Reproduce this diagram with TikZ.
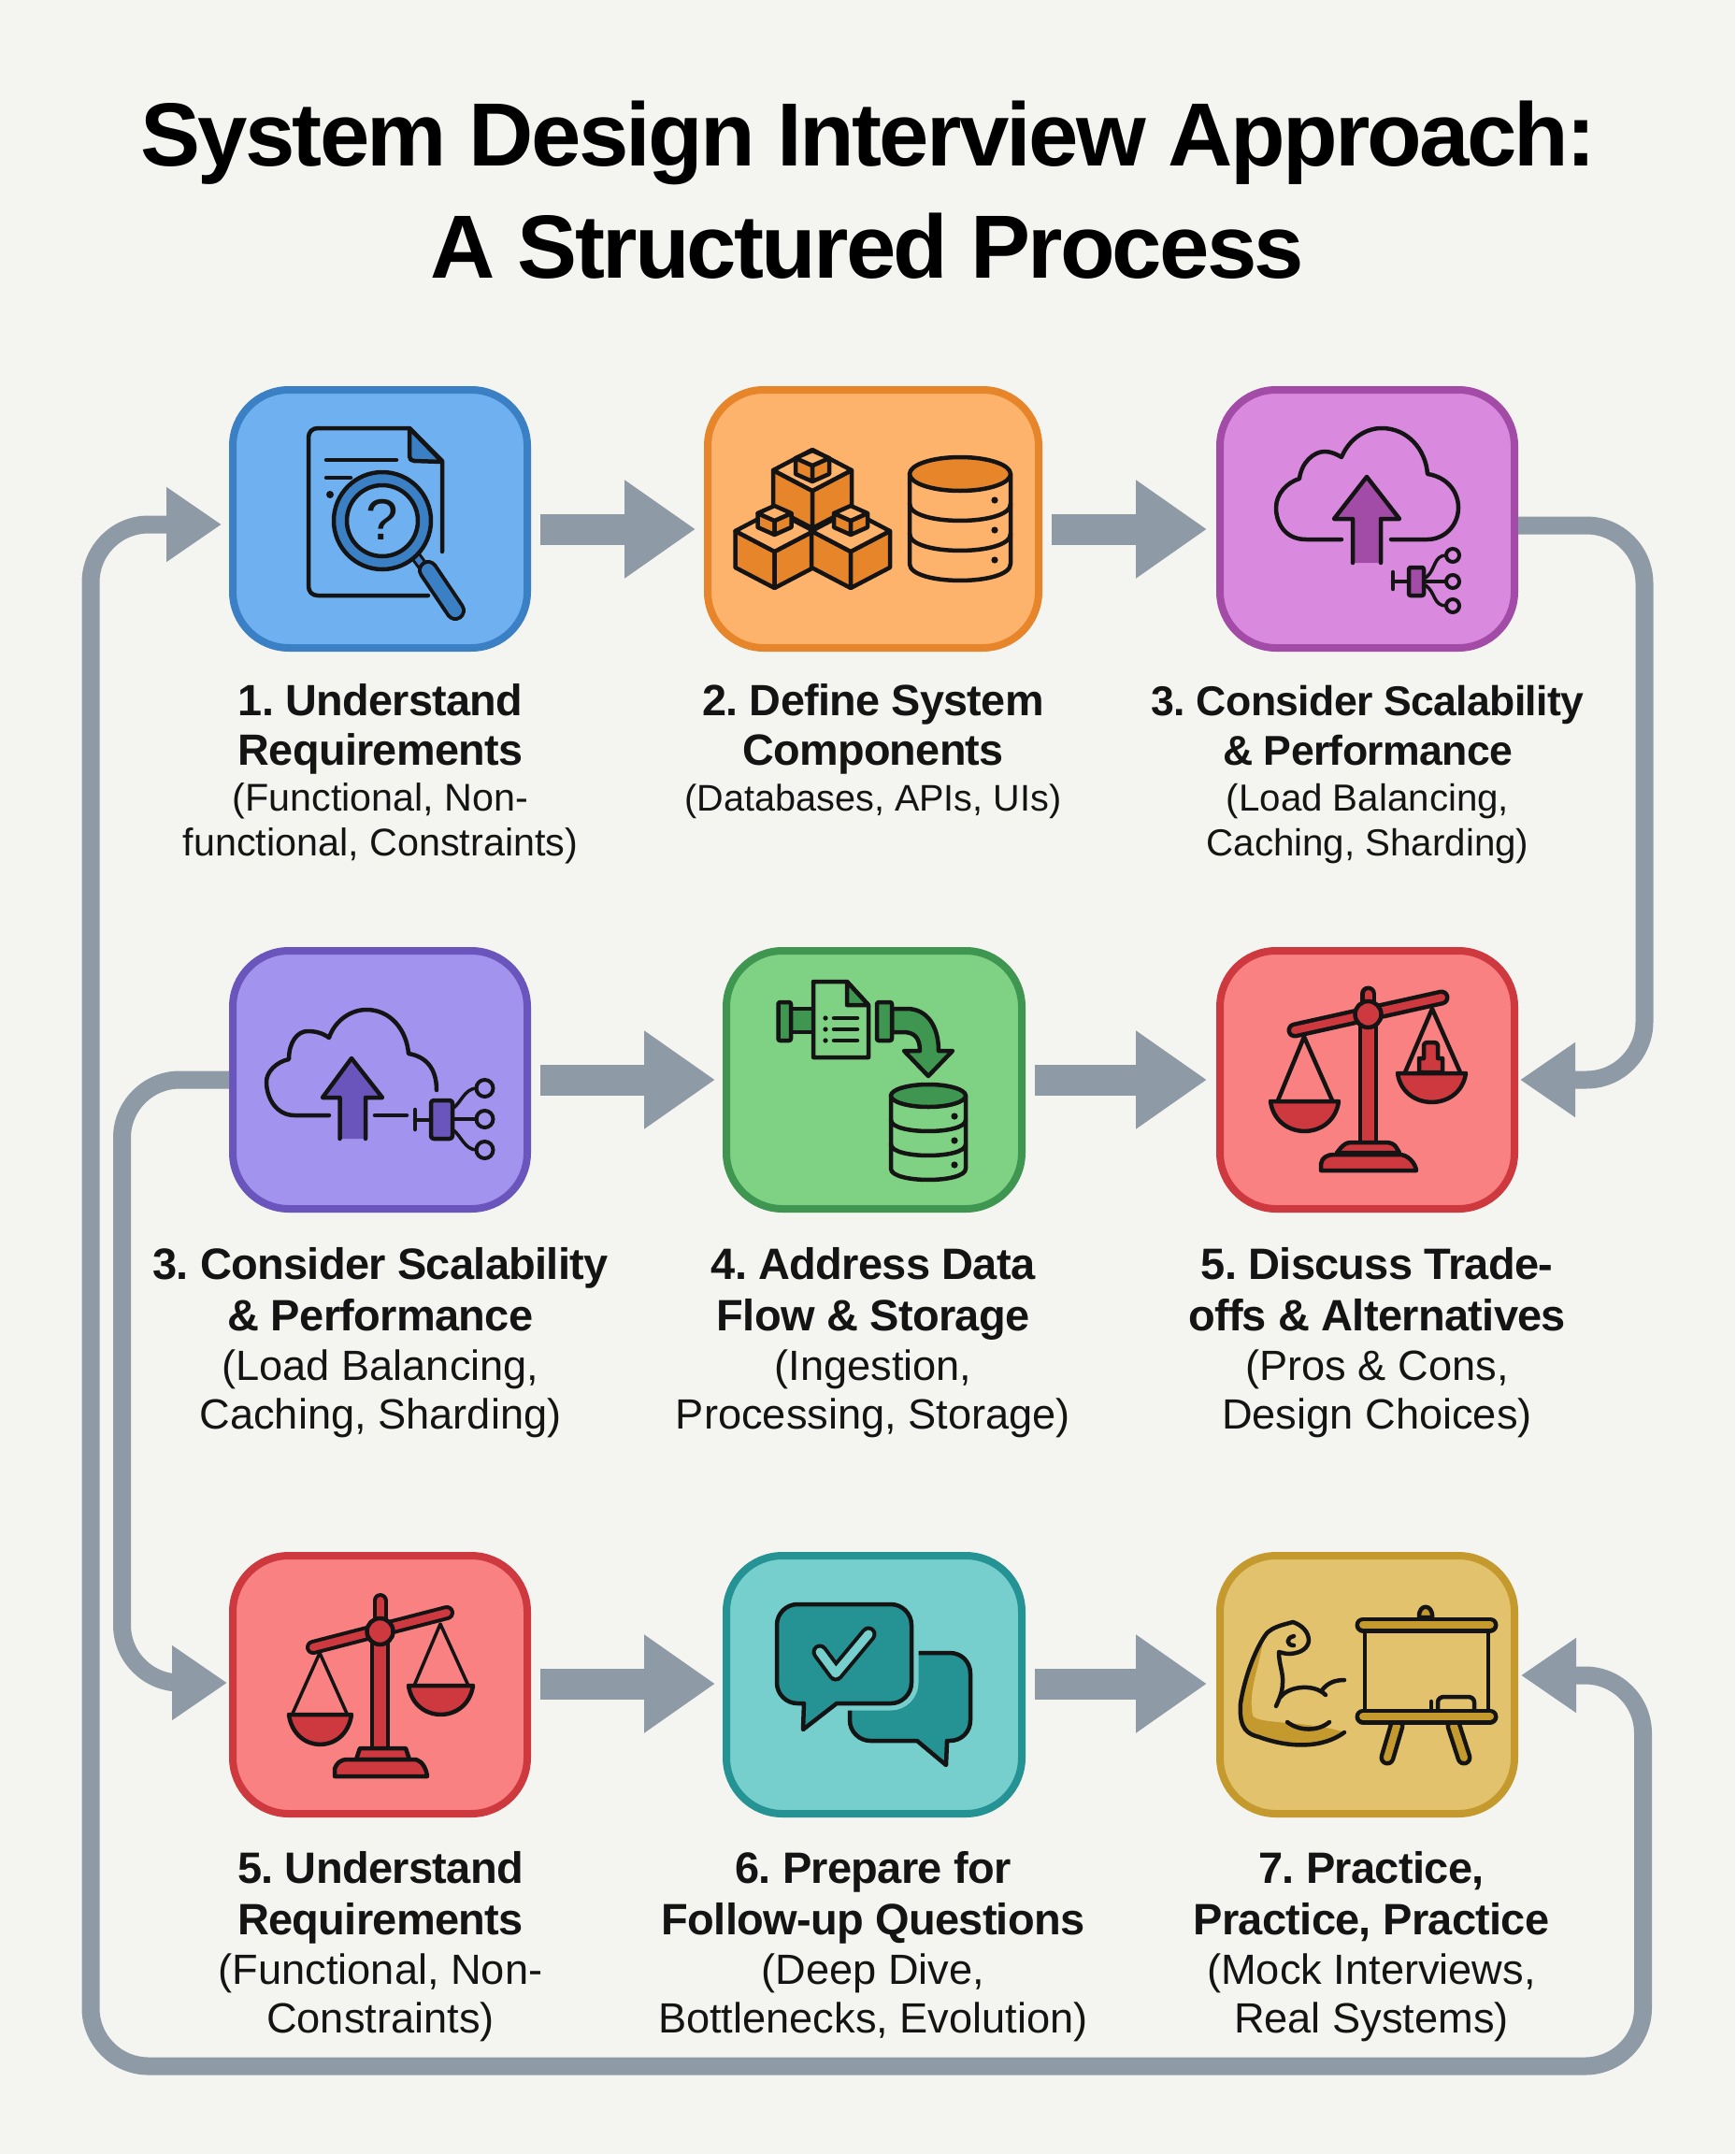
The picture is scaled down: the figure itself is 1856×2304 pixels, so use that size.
\documentclass[tikz,border=0pt]{standalone}
\usepackage{fontspec}
\setmainfont{Liberation Sans}
\newfontfamily\tighttitle[LetterSpace=-2.9]{Liberation Sans}
\newfontfamily\tightlabel[LetterSpace=-1.5]{Liberation Sans}
\usetikzlibrary{arrows.meta,calc}
\definecolor{pagebg}{HTML}{F4F4F0}
\definecolor{conn}{HTML}{8E9AA5}
\definecolor{ink}{HTML}{141414}
\definecolor{blueF}{HTML}{6FB1F0}\definecolor{blueD}{HTML}{3B80C4}
\definecolor{orF}{HTML}{FDB36B}\definecolor{orD}{HTML}{E6852A}
\definecolor{puF}{HTML}{D98ADF}\definecolor{puD}{HTML}{A24CA8}
\definecolor{viF}{HTML}{A293EE}\definecolor{viD}{HTML}{6A55BC}
\definecolor{grF}{HTML}{7FD184}\definecolor{grD}{HTML}{3E9650}
\definecolor{reF}{HTML}{F98181}\definecolor{reD}{HTML}{CE383F}
\definecolor{teF}{HTML}{76CFCD}\definecolor{teD}{HTML}{259294}
\definecolor{goF}{HTML}{E3C26E}\definecolor{goD}{HTML}{C49A2E}
\tikzset{
  card/.style={rectangle,rounded corners=60pt,line width=8pt,outer sep=0pt,inner sep=0pt,minimum height=276pt},
  wide/.style={minimum width=315pt},
  block/.style={draw=conn,line width=33pt,-{Triangle[length=76pt,width=100pt]}},
  looptip/.tip={Triangle[length=59pt,width=76pt]},
  loopline/.style={draw=conn,line width=19pt,rounded corners=62pt},
  ttl/.style={anchor=base,inner sep=0pt,text=black,font=\tighttitle\bfseries\fontsize{96}{96}\selectfont},
  bA/.style={anchor=base,inner sep=0pt,text=ink,font=\tightlabel\bfseries\fontsize{46.8}{46.8}\selectfont},
  bAc/.style={anchor=base,inner sep=0pt,text=ink,font=\tightlabel\bfseries\fontsize{44.6}{44.6}\selectfont},
  rA/.style={anchor=base,inner sep=0pt,text=ink,font=\fontsize{41.3}{41.3}\selectfont},
  rAb/.style={anchor=base,inner sep=0pt,text=ink,font=\fontsize{39.6}{39.6}\selectfont},
  rAc/.style={anchor=base,inner sep=0pt,text=ink,font=\fontsize{40.3}{40.3}\selectfont},
  bB/.style={anchor=base,inner sep=0pt,text=ink,font=\tightlabel\bfseries\fontsize{47}{47}\selectfont},
  rB/.style={anchor=base,inner sep=0pt,text=ink,font=\fontsize{45.2}{45.2}\selectfont},
  ic/.style={draw=ink,line width=4.5pt,line join=round,line cap=round},
}
\frenchspacing
\newcommand\dbicon[7]{% cx cy rx ry step dotdx dark
  \draw[ic] ({#1-#3},#2) -- ({#1-#3},{#2+3*#5}) .. controls ({#1-#3},{#2+3*#5+1.33*#4}) and ({#1+#3},{#2+3*#5+1.33*#4}) .. ({#1+#3},{#2+3*#5}) -- ({#1+#3},#2);
  \foreach \i in {1,2}{\draw[ic] ({#1-#3},{#2+\i*#5}) .. controls ({#1-#3},{#2+\i*#5+1.33*#4}) and ({#1+#3},{#2+\i*#5+1.33*#4}) .. ({#1+#3},{#2+\i*#5});}
  \foreach \i in {1,2,3}{\fill[ink] ({#1+#6},{#2+\i*#5-4}) circle[radius=3.6];}
  \draw[ic,fill=#7] (#1,#2) ellipse[x radius=#3,y radius=#4];
}
\newcommand\cubeicon[5]{% cx cy w h d
  \draw[ic,fill=orD] ({#1-#3},{#2-#4}) -- (#1,#2) -- (#1,{#2+#5}) -- ({#1-#3},{#2-#4+#5}) -- cycle;
  \draw[ic,fill=orD] ({#1+#3},{#2-#4}) -- (#1,#2) -- (#1,{#2+#5}) -- ({#1+#3},{#2-#4+#5}) -- cycle;
  \draw[ic,fill=orF] ({#1-#3},{#2-#4}) -- (#1,#2) -- ({#1+#3},{#2-#4}) -- (#1,{#2-2*#4}) -- cycle;
}
\newcommand\panicon[5]{% x1 x2 rim depth fill
  \draw[ic,fill=#5] (#1,#3) -- (#2,#3) .. controls ({#2-6},{#3+1.33*#4}) and ({#1+6},{#3+1.33*#4}) .. (#1,#3) -- cycle;
}
\begin{document}
\begin{tikzpicture}[x=1pt,y=-1pt]
\useasboundingbox (0,0) rectangle (1856,2304);
\fill[pagebg] (0,0) rectangle (1856,2304);

% ---------- cards
\node[card,wide,fill=blueF,draw=blueD] (c1) at (406.5,555) {};
\node[card,minimum width=354pt,fill=orF,draw=orD] (c2) at (934,555) {};
\node[card,wide,fill=puF,draw=puD] (c3) at (1462.5,555) {};
\node[card,wide,fill=viF,draw=viD] (c4) at (406.5,1155) {};
\node[card,minimum width=316pt,fill=grF,draw=grD] (c5) at (935,1155) {};
\node[card,wide,fill=reF,draw=reD] (c6) at (1462.5,1155) {};
\node[card,wide,fill=reF,draw=reD] (c7) at (406.5,1802) {};
\node[card,minimum width=316pt,fill=teF,draw=teD] (c8) at (935,1802) {};
\node[card,wide,fill=goF,draw=goD] (c9) at (1462.5,1802) {};

% ---------- straight connectors
\draw[block] ($(c1.east)+(14,11)$) -- ($(c2.west)+(-13,11)$);
\draw[block] ($(c2.east)+(14,11)$) -- ($(c3.west)+(-14,11)$);
\draw[block] ($(c4.east)+(14,0)$) -- ($(c5.west)+(-12,0)$);
\draw[block] ($(c5.east)+(14,0)$) -- ($(c6.west)+(-14,0)$);
\draw[block] ($(c7.east)+(14,-1)$) -- ($(c8.west)+(-12,-1)$);
\draw[block] ($(c8.east)+(14,-1)$) -- ($(c9.west)+(-14,-1)$);

% ---------- routed connectors
\coordinate (k1) at (97,561);
\coordinate (k2) at (97,2210);
\coordinate (k3) at (1757.5,2210);
\coordinate (k4) at (1757.5,1792);
\draw[loopline,{looptip}-{looptip}] ($(c1.west)+(-12,6)$) -- (k1) -- (k2) -- (k3) -- (k4) -- ($(c9.east)+(7,-10)$);
\coordinate (k5) at (1759,562);
\coordinate (k6) at (1759,1155);
\draw[loopline,-{looptip}] ($(c3.east)+(4,7)$) -- (k5) -- (k6) -- ($(c6.east)+(6,0)$);
\coordinate (k7) at (130.5,1155);
\coordinate (k8) at (130.5,1800);
\draw[loopline,-{looptip}] ($(c4.west)+(-4,0)$) -- (k7) -- (k8) -- ($(c7.west)+(-6,-2)$);

% ---------- icon 1: document and magnifier
\draw[ic] (473,590) -- (473,493) -- (438,458) -- (340,458) .. controls (334,458) and (330,462) .. (330,468) -- (330,627) .. controls (330,633) and (334,637) .. (340,637) -- (458,637);
\draw[ic,fill=blueD] (438,458) -- (438,488) .. controls (438,491) and (440,493) .. (443,493) -- (473,494) -- cycle;
\draw[ic] (349,492) -- (424,492);
\draw[ic] (349,511) -- (375,511);
\fill[ink] (353,529) circle[radius=4];
\draw[line width=12pt,ink] (441,590) -- (452,605);
\draw[line width=6pt,blueD] (441,590) -- (452,605);
\draw[line width=22pt,ink,line cap=round] (458,610) -- (487,653);
\draw[line width=14pt,blueD,line cap=round] (458,610) -- (487,653);
\draw[ic,fill=blueD] (409,557) circle[radius=52];
\draw[ic,fill=blueF] (409,557) circle[radius=38];
\node[inner sep=0pt,text=ink,font=\fontsize{62}{62}\selectfont] (qmark) at (409,556) {?};

% ---------- icon 2: cubes and database
\cubeicon{869}{525}{42}{22}{40}
\cubeicon{828.5}{590}{42}{22}{39}
\cubeicon{910}{590}{42}{22}{39}
\cubeicon{869}{498}{18}{8}{17}
\cubeicon{828.5}{557}{18}{8}{15}
\cubeicon{910}{557}{18}{8}{15}
\dbicon{1027}{507}{54}{18}{32}{37}{orD}

% ---------- icon 3: cloud, purple
\draw[ic] (1435,577) -- (1397,577) .. controls (1375,577) and (1365,560) .. (1365,543) .. controls (1365,528) and (1377,516) .. (1390,512) .. controls (1392,495) and (1405,483) .. (1417,483) .. controls (1424,483) and (1430,486) .. (1435,489) .. controls (1443,470) and (1460,458) .. (1478,458) .. controls (1505,458) and (1525,480) .. (1527,507) .. controls (1547,510) and (1560,525) .. (1560,543) .. controls (1560,562) and (1545,577) .. (1527,577) -- (1488,577);
\fill[puD] (1447,555) rectangle (1477,602);
\draw[ic,fill=puD] (1447,602) -- (1447,555) -- (1427,555) -- (1462,510) -- (1497,555) -- (1477,555) -- (1477,602);
\draw[ic] (1490,612) -- (1490,630);
\draw[ic] (1490,622) -- (1507,622);
\draw[ic,fill=puD,rounded corners=2pt] (1507,607) rectangle (1523,637);
\draw[line width=3.5pt,ink,line cap=round] (1525,618) .. controls (1536,610) and (1533,594) .. (1547,594);
\draw[line width=3.5pt,ink,line cap=round] (1525,622) -- (1547,622);
\draw[line width=3.5pt,ink,line cap=round] (1525,626) .. controls (1536,634) and (1533,648) .. (1547,648);
\foreach \yy in {594,622,648}{\draw[line width=4pt,ink] (1554,\yy) circle[radius=7];}

% ---------- icon 4: cloud, violet
\draw[ic] (352,1193) -- (315,1193) .. controls (296,1193) and (285,1175) .. (285,1157) .. controls (285,1147) and (295,1136) .. (309,1133) .. controls (309,1115) and (318,1103) .. (329,1103) .. controls (338,1103) and (345,1105) .. (352,1110) .. controls (358,1092) and (375,1080) .. (392,1080) .. controls (418,1080) and (435,1102) .. (437,1127) .. controls (455,1130) and (467,1142) .. (467,1166);
\draw[ic] (401,1193) -- (435,1193);
\fill[viD] (363.5,1174) rectangle (391,1218);
\draw[ic,fill=viD] (363.5,1218) -- (363.5,1174) -- (345,1174) -- (376,1132) -- (409,1174) -- (391,1174) -- (391,1218);
\draw[ic] (444,1187) -- (444,1208);
\draw[ic] (444,1198) -- (461,1198);
\draw[ic,fill=viD,rounded corners=3pt] (461,1177) rectangle (484,1218);
\draw[line width=3.5pt,ink,line cap=round] (484,1186) .. controls (493,1180) and (497,1164) .. (510,1164);
\draw[line width=3.5pt,ink,line cap=round] (484,1197) -- (510,1197);
\draw[line width=3.5pt,ink,line cap=round] (484,1208) .. controls (493,1214) and (497,1230) .. (510,1230);
\foreach \yy in {1164,1197,1230}{\draw[line width=4pt,ink] (518.5,\yy) circle[radius=9];}

% ---------- icon 5: data pipeline
\draw[ic,fill=grD] (846,1079) rectangle (872,1104);
\draw[ic,fill=grD,rounded corners=2pt] (832.5,1072) rectangle (846,1113);
\draw[ic,fill=grF] (906,1050) -- (870,1050) -- (870,1131) -- (929,1131) -- (929,1075) -- cycle;
\draw[ic,fill=grD] (906,1050) -- (906,1075) -- (929,1075) -- cycle;
\foreach \yy in {1089,1101,1113}{\draw[ic] (892,\yy) -- (917,\yy); \fill[ink] (883,\yy) circle[radius=2.6];}
\draw[ic,fill=grD] (954,1079) -- (970,1079) .. controls (992,1079) and (1004,1098) .. (1004,1124) -- (1019,1124) -- (993,1151) -- (967,1124) -- (984,1124) .. controls (984,1110) and (978,1104) .. (966,1104) -- (954,1104) -- cycle;
\draw[ic,fill=grD,rounded corners=2pt] (938,1072) rectangle (954,1113);
\dbicon{993}{1172}{40}{12}{26}{28}{grD}

% ---------- icon 6: scales with weight
\draw[line width=17pt,ink,line cap=round] (1463.5,1063) -- (1463.5,1085);
\draw[line width=8pt,reD,line cap=round] (1463.5,1063) -- (1463.5,1085);
\draw[line width=17pt,ink,line cap=round] (1385,1102) -- (1542,1067);
\draw[line width=8pt,reD,line cap=round] (1385,1102) -- (1542,1067);
\draw[ic,fill=reD] (1455,1085) rectangle (1472,1222);
\draw[ic,fill=reD] (1430,1233) -- (1434,1228) .. controls (1438,1224) and (1440,1222) .. (1446,1222) -- (1482,1222) .. controls (1488,1222) and (1492,1224) .. (1494,1228) -- (1497,1233) -- cycle;
\draw[ic,fill=reD] (1413,1252) -- (1413,1245) .. controls (1414,1238) and (1420,1235) .. (1427,1235) -- (1497,1235) .. controls (1506,1235) and (1514,1244) .. (1515,1252) -- cycle;
\draw[ic,fill=reD] (1463.5,1085) circle[radius=14];
\draw[ic] (1367,1177) -- (1395,1109) -- (1425,1177);
\panicon{1359}{1432}{1178}{32}{reD}
\draw[ic] (1503,1147) -- (1532,1079) -- (1562,1147);
\draw[ic,fill=reD] (1518,1147) -- (1518,1132) -- (1523,1132) -- (1523,1118) .. controls (1523,1116) and (1525,1115) .. (1527,1115) -- (1534,1115) .. controls (1536,1115) and (1538,1116) .. (1538,1118) -- (1538,1132) -- (1543,1132) -- (1543,1147) -- cycle;
\panicon{1495}{1568}{1148}{31}{reD}

% ---------- icon 7: scales
\draw[line width=16pt,ink,line cap=round] (406.5,1712) -- (406.5,1745);
\draw[line width=8pt,reD,line cap=round] (406.5,1712) -- (406.5,1745);
\draw[line width=16pt,ink,line cap=round] (335,1762) -- (478,1725);
\draw[line width=8pt,reD,line cap=round] (335,1762) -- (478,1725);
\draw[ic,fill=reD] (398,1745) rectangle (415,1870);
\draw[ic,fill=reD] (381,1882) -- (385,1870) -- (434,1870) -- (438,1882) -- cycle;
\draw[ic,fill=reD] (358,1900) -- (358,1892) .. controls (360,1886) and (364,1882) .. (372,1882) -- (445,1882) .. controls (452,1884) and (456,1892) .. (457,1900) -- cycle;
\draw[ic,fill=reD] (406.5,1745) circle[radius=14];
\draw[line width=3.5pt,ink,line join=round,line cap=round] (312,1835) -- (342,1768) -- (372,1835);
\panicon{309}{376}{1834}{32}{reD}
\draw[line width=3.5pt,ink,line join=round,line cap=round] (443,1803) -- (471,1737) -- (501,1803);
\panicon{437}{506}{1803}{31}{reD}

% ---------- icon 8: chat bubbles
\draw[ic,fill=teD] (931,1768) -- (1016,1768) .. controls (1029,1768) and (1038,1778) .. (1038,1790) -- (1038,1840) .. controls (1038,1852) and (1029,1862) .. (1016,1862) -- (1013,1862) -- (1012,1888) -- (981,1862) -- (931,1862) .. controls (919,1862) and (909,1852) .. (909,1840) -- (909,1790) .. controls (909,1778) and (919,1768) .. (931,1768) -- cycle;
\draw[draw=teF,line width=15pt,line join=round] (895,1822) -- (953,1822) .. controls (965,1822) and (975,1812) .. (975,1800) -- (975,1738) .. controls (975,1726) and (965,1716) .. (953,1716) -- (853,1716) .. controls (841,1716) and (831,1726) .. (831,1738) -- (831,1800) .. controls (831,1812) and (841,1822) .. (853,1822) -- (860,1822) -- (859,1850) -- cycle;
\draw[ic,fill=teD] (895,1822) -- (953,1822) .. controls (965,1822) and (975,1812) .. (975,1800) -- (975,1738) .. controls (975,1726) and (965,1716) .. (953,1716) -- (853,1716) .. controls (841,1716) and (831,1726) .. (831,1738) -- (831,1800) .. controls (831,1812) and (841,1822) .. (853,1822) -- (860,1822) -- (859,1850) -- cycle;
\draw[line width=17pt,ink,line cap=round,line join=round] (877,1767) -- (894,1790) -- (929,1748);
\draw[line width=9pt,teF,line cap=round,line join=round] (877,1767) -- (894,1790) -- (929,1748);

% ---------- icon 9: arm and board
\fill[goD] (1438,1853) .. controls (1400,1875) and (1370,1865) .. (1347,1858) .. controls (1335,1855) and (1325,1850) .. (1327,1825) .. controls (1330,1790) and (1345,1760) .. (1353,1747) .. controls (1345,1790) and (1335,1810) .. (1340,1835) .. controls (1345,1845) and (1400,1840) .. (1438,1853) -- cycle;
\draw[ic] (1438,1853) .. controls (1415,1870) and (1380,1870) .. (1347,1858) .. controls (1335,1855) and (1325,1850) .. (1327,1822) .. controls (1332,1790) and (1345,1760) .. (1355,1747) .. controls (1362,1740) and (1372,1738) .. (1383,1735) .. controls (1392,1738) and (1400,1745) .. (1400,1755) .. controls (1399,1763) and (1392,1768) .. (1380,1769) .. controls (1375,1769) and (1372,1768) .. (1368,1767) .. controls (1368,1780) and (1373,1790) .. (1372,1800) .. controls (1372,1810) and (1368,1818) .. (1365,1825);
\draw[ic] (1370,1815) .. controls (1378,1804) and (1405,1800) .. (1418,1813);
\draw[ic] (1414,1808) .. controls (1420,1800) and (1428,1797) .. (1438,1797);
\draw[ic] (1377,1842) .. controls (1390,1852) and (1410,1852) .. (1422,1842);
\draw[ic] (1384,1750) .. controls (1375,1752) and (1376,1760) .. (1384,1760);
\draw[ic,fill=goD] (1525,1730) -- (1518,1730) .. controls (1517,1715) and (1533,1715) .. (1532,1730) -- cycle;
\draw[ic] (1460,1747) -- (1460,1830);
\draw[ic] (1592,1747) -- (1592,1830);
\draw[ic] (1538,1828) -- (1538,1821) .. controls (1538,1817) and (1541,1815) .. (1545,1815) -- (1570,1815) .. controls (1574,1815) and (1577,1817) .. (1577,1821) -- (1577,1828);
\draw[ic] (1531,1820) -- (1531,1828);
\draw[line width=17pt,ink,line cap=round] (1484,1880) -- (1494,1846);
\draw[line width=8pt,goD,line cap=round] (1484,1880) -- (1494,1846);
\draw[line width=17pt,ink,line cap=round] (1566,1880) -- (1555,1846);
\draw[line width=8pt,goD,line cap=round] (1566,1880) -- (1555,1846);
\draw[line width=17pt,ink,line cap=round] (1458,1738) -- (1594,1738);
\draw[line width=8pt,goD,line cap=round] (1458,1738) -- (1594,1738);
\draw[line width=17pt,ink,line cap=round] (1458,1836) -- (1594,1836);
\draw[line width=8pt,goD,line cap=round] (1458,1836) -- (1594,1836);

% ---------- title
\node[ttl] (title1) at (929,177) {System Design Interview Approach:};
\node[ttl] (title2) at (928,297) {A Structured Process};

% ---------- labels, row 1
\node[bA] (a1) at (407,765) {1. Understand};
\node[bA] (a2) at (407,818) {Requirements};
\node[rA] (a3) at (407,867) {(Functional, Non-};
\node[rA] (a4) at (407,915) {functional, Constraints)};
\node[bA] (a5) at (934,765) {2. Define System};
\node[bA] (a6) at (934,818) {Components};
\node[rAb] (a7) at (934,867) {(Databases, APIs, UIs)};
\node[bAc] (a8) at (1463,765) {3. Consider Scalability};
\node[bAc] (a9) at (1463,818) {\& Performance};
\node[rAc] (a10) at (1463,867) {(Load Balancing,};
\node[rAc] (a11) at (1463,915) {Caching, Sharding)};
% ---------- labels, row 2
\node[bB] (b1) at (407,1368) {3. Consider Scalability};
\node[bB] (b2) at (407,1423) {\& Performance};
\node[rB] (b3) at (407,1476) {(Load Balancing,};
\node[rB] (b4) at (407,1528) {Caching, Sharding)};
\node[bB] (b5) at (934,1368) {4. Address Data};
\node[bB] (b6) at (934,1423) {Flow \& Storage};
\node[rB] (b7) at (934,1476) {(Ingestion,};
\node[rB] (b8) at (934,1528) {Processing, Storage)};
\node[bB] (b9) at (1473,1368) {5. Discuss Trade-};
\node[bB] (b10) at (1473,1423) {offs \& Alternatives};
\node[rB] (b11) at (1473,1476) {(Pros \& Cons,};
\node[rB] (b12) at (1473,1528) {Design Choices)};
% ---------- labels, row 3
\node[bB] (d1) at (407,2014) {5. Understand};
\node[bB] (d2) at (407,2069) {Requirements};
\node[rB] (d3) at (407,2122) {(Functional, Non-};
\node[rB] (d4) at (407,2174) {Constraints)};
\node[bB] (d5) at (934,2014) {6. Prepare for};
\node[bB] (d6) at (934,2069) {Follow-up Questions};
\node[rB] (d7) at (934,2122) {(Deep Dive,};
\node[rB] (d8) at (934,2174) {Bottlenecks, Evolution)};
\node[bB] (d9) at (1467,2014) {7. Practice,};
\node[bB] (d10) at (1467,2069) {Practice, Practice};
\node[rB] (d11) at (1467,2122) {(Mock Interviews,};
\node[rB] (d12) at (1467,2174) {Real Systems)};
\end{tikzpicture}
\end{document}
